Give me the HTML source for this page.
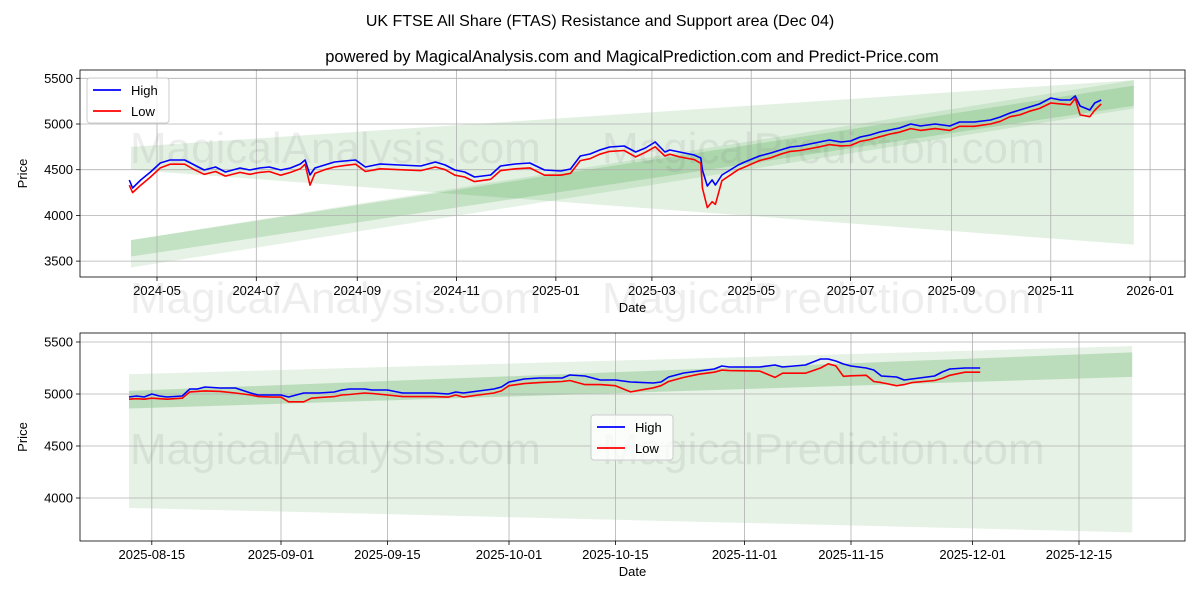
<!DOCTYPE html>
<html><head><meta charset="utf-8"><style>
body{margin:0;background:#fff;font-family:"Liberation Sans",sans-serif}
svg text{font-family:"Liberation Sans",sans-serif}
</style></head><body>
<svg id="c" width="1200" height="600" xmlns="http://www.w3.org/2000/svg">
<rect width="1200" height="600" fill="#fff"/>
<text x="600" y="26" font-size="16" text-anchor="middle">UK FTSE All Share (FTAS) Resistance and Support area (Dec 04)</text>
<text x="632" y="62" font-size="16.5" text-anchor="middle">powered by MagicalAnalysis.com and MagicalPrediction.com and Predict-Price.com</text>
<g id="top"></g>
<g id="bot"></g>
</svg>
<script>
// ---- top chart data (day offsets from 2024-05-01) ----
const topDays=[-17,-15,-10,-4,2,8,17,23,29,36,42,51,57,63,69,76,82,88,91,94,97,103,109,115,122,128,137,149,162,171,177,183,189,195,205,211,220,229,238,248,254,260,266,272,278,287,294,300,306,312,315,321,330,334,335,338,341,343,347,352,357,361,370,377,383,389,395,401,407,413,420,426,432,438,444,450,456,463,469,478,487,493,502,512,518,524,530,536,542,549,555,561,564,567,573,576,580];
const topHigh=[4387,4300,4387,4475,4573,4606,4606,4551,4497,4530,4475,4519,4497,4519,4530,4497,4519,4562,4606,4442,4519,4551,4584,4595,4606,4530,4562,4551,4540,4584,4551,4497,4475,4420,4442,4540,4562,4573,4497,4486,4508,4650,4672,4716,4748,4759,4694,4737,4803,4694,4716,4694,4661,4628,4497,4322,4387,4333,4442,4497,4551,4584,4650,4683,4716,4748,4759,4781,4803,4825,4803,4814,4858,4880,4912,4934,4956,5000,4978,5000,4978,5022,5022,5044,5077,5120,5153,5186,5219,5284,5263,5263,5306,5197,5153,5230,5263];
const topLow=[4330,4250,4330,4420,4520,4560,4560,4500,4450,4480,4430,4470,4450,4470,4480,4440,4470,4510,4560,4330,4460,4500,4530,4545,4560,4480,4510,4500,4490,4530,4500,4440,4420,4370,4395,4490,4510,4520,4440,4440,4460,4600,4620,4670,4700,4710,4640,4690,4750,4650,4670,4640,4610,4570,4300,4085,4150,4120,4380,4440,4500,4530,4600,4630,4670,4700,4710,4730,4750,4775,4760,4765,4810,4830,4860,4890,4910,4950,4930,4950,4930,4975,4975,5000,5030,5080,5100,5140,5170,5230,5220,5210,5280,5100,5080,5150,5220];
const topTicksY=[3500,4000,4500,5000,5500];
const topTicksX=["2024-05","2024-07","2024-09","2024-11","2025-01","2025-03","2025-05","2025-07","2025-09","2025-11","2026-01"];
const topBandDays=[-16,600];
const topLightUpper=[4750,5480], topLightLower=[4500,3680];
const topOuterUpper=[3730,5480], topOuterLower=[3430,5170];
const topDarkUpper=[3730,5420], topDarkLower=[3550,5200];
// ---- bottom chart data (day offsets from 2025-08-12) ----
const botDays=[0,1,2,3,4,5,7,8,9,10,12,14,16,17,19,20,21,23,24,25,27,28,29,31,32,34,36,38,40,42,43,44,46,48,49,50,52,54,57,58,60,61,62,64,66,69,70,71,73,75,77,78,79,83,85,86,89,91,92,93,94,95,97,98,99,101,102,103,106,107,108,110,112];
const botHigh=[4971,4981,4971,5000,4981,4971,4981,5048,5048,5067,5058,5058,5010,4990,4990,4990,4971,5010,5010,5010,5019,5038,5048,5048,5038,5038,5010,5010,5010,5000,5019,5010,5029,5048,5067,5115,5144,5154,5154,5183,5173,5154,5135,5135,5115,5106,5115,5163,5202,5221,5240,5269,5260,5260,5279,5260,5279,5337,5337,5317,5288,5269,5250,5231,5173,5163,5135,5144,5173,5212,5240,5250,5250];
const botLow=[4950,4955,4950,4960,4955,4950,4960,5020,5025,5030,5025,5010,4990,4975,4970,4970,4925,4925,4960,4965,4975,4990,4995,5010,5005,4990,4975,4975,4975,4970,4990,4970,4990,5010,5030,5080,5100,5110,5120,5130,5090,5090,5090,5080,5020,5060,5080,5120,5160,5190,5210,5230,5225,5220,5160,5200,5200,5250,5290,5270,5170,5175,5180,5120,5110,5080,5090,5110,5130,5150,5180,5210,5210];
const botTicksY=[4000,4500,5000,5500];
const botTicksX=["2025-08-15","2025-09-01","2025-09-15","2025-10-01","2025-10-15","2025-11-01","2025-11-15","2025-12-01","2025-12-15"];
const botBandDays=[0,132];
const botLightUpper=[5190,5460], botLightLower=[3905,3670];
const botDarkUpper=[5030,5400], botDarkLower=[4860,5165];

const NS="http://www.w3.org/2000/svg";
function mk(p,t,a){const e=document.createElementNS(NS,t);for(const k in a)e.setAttribute(k,a[k]);p.appendChild(e);return e;}
function dayDiff(s,base){const p=s.split("-").map(Number);return (Date.UTC(p[0],p[1]-1,p[2]||1)-base)/864e5;}

function panel(g,cfg){
  const {L,T,R,B,xs,ys}=cfg;
  const bands=cfg.bands;
  bands.forEach(b=>{
    const pts=[[cfg.bandDays[0],b.u[0]],[cfg.bandDays[1],b.u[1]],[cfg.bandDays[1],b.l[1]],[cfg.bandDays[0],b.l[0]]].map(p=>xs(p[0])+","+ys(p[1])).join(" ");
    const e=mk(g,"polygon",{points:pts,fill:b.c});
    
    
  });
  cfg.ticksX.forEach(t=>{
    const x=xs(cfg.tickDay(t));
    const gl=mk(g,"line",{x1:x,x2:x,y1:T,y2:B,stroke:"#b0b0b0","stroke-width":0.8});
    
    
    mk(g,"line",{x1:x,x2:x,y1:B,y2:B+4,stroke:"#000","stroke-width":0.8});
    const tx=mk(g,"text",{x:x,y:B+18,"font-size":13,"text-anchor":"middle"});tx.textContent=t;
    
    
  });
  cfg.ticksY.forEach(v=>{
    const y=ys(v);
    const gl=mk(g,"line",{x1:L,x2:R,y1:y,y2:y,stroke:"#b0b0b0","stroke-width":0.8});
    
    
    mk(g,"line",{x1:L-4,x2:L,y1:y,y2:y,stroke:"#000","stroke-width":0.8});
    const tx=mk(g,"text",{x:L-7,y:y+4.5,"font-size":13,"text-anchor":"end"});tx.textContent=v;
    
    
  });
  cfg.wm.forEach(w=>{
    const t=mk(g,"text",{x:w[1],y:w[2],"font-size":44,fill:"rgba(120,120,120,0.13)"});t.textContent=w[0];
    
    
  });
  const line=(arr,col,name)=>{
    const d=cfg.days.map((dd,i)=>(i?"L":"M")+xs(dd).toFixed(1)+","+ys(arr[i]).toFixed(1)).join("");
    const e=mk(g,"path",{d:d,fill:"none",stroke:col,"stroke-width":1.6,"stroke-linejoin":"round"});
    
    
  };
  line(cfg.high,"#0000ff","high-line");
  line(cfg.low,"#ff0000","low-line");
  const fr=mk(g,"rect",{x:L,y:T,width:R-L,height:B-T,fill:"none",stroke:"#000","stroke-width":0.8});
  
  
  const xt=mk(g,"text",{x:(L+R)/2,y:B+35,"font-size":13,"text-anchor":"middle"});xt.textContent="Date";
  
  
  const yt=mk(g,"text",{x:0,y:0,"font-size":13,"text-anchor":"middle",transform:`translate(27,${(T+B)/2}) rotate(-90)`});yt.textContent="Price";
  
  
  const [lx,ly]=cfg.leg;
  const lg=mk(g,"g",{});
  
  
  mk(lg,"rect",{x:lx,y:ly,width:82,height:45,rx:3,fill:"rgba(255,255,255,0.8)",stroke:"#ccc"});
  [["High","#0000ff"],["Low","#ff0000"]].forEach((e,i)=>{
    const yy=ly+12+i*21;
    mk(lg,"line",{x1:lx+6,x2:lx+34,y1:yy,y2:yy,stroke:e[1],"stroke-width":1.8});
    const t=mk(lg,"text",{x:lx+44,y:yy+5,"font-size":13});t.textContent=e[0];
    
    
  });
}
const baseTop=Date.UTC(2024,4,1), baseBot=Date.UTC(2025,7,12);
panel(document.getElementById("top"),{L:80,T:70,R:1185,B:277,
  xs:d=>157+d*1.628, ys:v=>124-(v-5000)*0.0914,
  bandDays:topBandDays,
  bands:[{u:topLightUpper,l:topLightLower,c:"rgba(0,128,0,0.11)",n:"resistance-band-wide"},
         {u:topOuterUpper,l:topOuterLower,c:"rgba(0,128,0,0.10)",n:"support-band-outer"},
         {u:topDarkUpper,l:topDarkLower,c:"rgba(0,128,0,0.15)",n:"support-band-core"}],
  ticksX:topTicksX,tickDay:t=>dayDiff(t,baseTop),ticksY:topTicksY,
  days:topDays,high:topHigh,low:topLow,leg:[87,78],
  wm:[["MagicalAnalysis.com",130,163],["MagicalPrediction.com",602,163],["MagicalAnalysis.com",130,313],["MagicalPrediction.com",602,313]]});
panel(document.getElementById("bot"),{L:80,T:333,R:1185,B:541,
  xs:d=>129+d*7.6, ys:v=>394-(v-5000)*0.104,
  bandDays:botBandDays,
  bands:[{u:botLightUpper,l:botLightLower,c:"rgba(0,128,0,0.10)",n:"support-band-wide"},
         {u:botDarkUpper,l:botDarkLower,c:"rgba(0,128,0,0.18)",n:"support-band-core"}],
  ticksX:botTicksX,tickDay:t=>dayDiff(t,baseBot),ticksY:botTicksY,
  days:botDays,high:botHigh,low:botLow,leg:[591,415],
  wm:[["MagicalAnalysis.com",130,464],["MagicalPrediction.com",602,464]]});
</script>
</body></html>
